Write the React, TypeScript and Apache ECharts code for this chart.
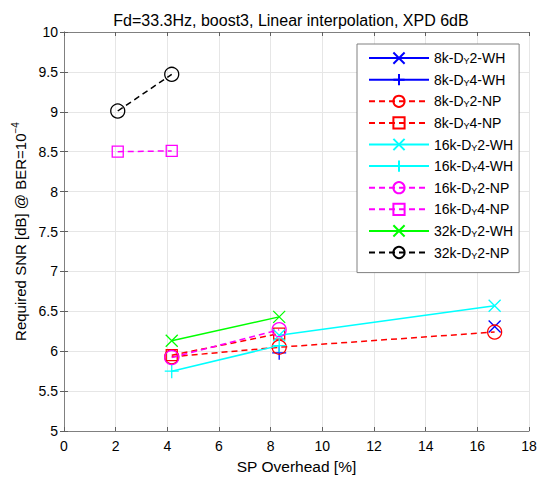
import React, { useEffect, useRef } from "react";
import * as echarts from "echarts";

const xTicks = [0, 2, 4, 6, 8, 10, 12, 14, 16, 18];
const yTicks = [5, 5.5, 6, 6.5, 7, 7.5, 8, 8.5, 9, 9.5, 10];

const names = [
  "8k-DY2-WH", "8k-DY4-WH", "8k-DY2-NP", "8k-DY4-NP",
  "16k-DY2-WH", "16k-DY4-WH", "16k-DY2-NP", "16k-DY4-NP",
  "32k-DY2-WH", "32k-DY2-NP",
];

const s8kDy2Wh = [[16.67, 6.31]];
const s8kDy4Wh = [[8.33, 5.98]];
const s8kDy2Np = [[4.17, 5.93], [8.33, 6.05], [16.67, 6.24]];
const s8kDy4Np = [[4.17, 5.95], [8.33, 6.22]];
const s16kDy2Wh = [[8.33, 6.2], [16.67, 6.57]];
const s16kDy4Wh = [[4.17, 5.75], [8.33, 6.07]];
const s16kDy2Np = [[4.17, 5.92], [8.33, 6.27]];
const s16kDy4Np = [[2.08, 8.5], [4.17, 8.51]];
const s32kDy2Wh = [[4.17, 6.13], [8.33, 6.43]];
const s32kDy2Np = [[2.08, 9.01], [4.17, 9.47]];

const X = "path://M0,0L10,10M10,0L0,10";
const PLUS = "path://M5,0L5,10M0,5L10,5";

export default function App() {
  const ref = useRef<HTMLDivElement>(null);
  useEffect(() => {
    const chart = echarts.init(ref.current!, null, { renderer: "svg" });
    const font = "Liberation Sans, Arial, sans-serif";
    const mk = (name: string, data: number[][], color: string, symbol: string, size: number, dashed: boolean, z: number) => ({
      name,
      type: "line",
      data,
      symbol,
      symbolSize: size,
      showSymbol: true,
      z,
      lineStyle: { color, width: 1.5, type: dashed ? [6, 4] : "solid" },
      itemStyle: { color: "none", borderColor: color, borderWidth: 1.3 },
      emphasis: { disabled: true },
    });
    const series = [
      mk(names[0], s8kDy2Wh, "#0000ff", X, 12, false, 2),
      mk(names[1], s8kDy4Wh, "#0000ff", PLUS, 14, false, 2),
      mk(names[2], s8kDy2Np, "#ff0000", "circle", 14, true, 3),
      mk(names[3], s8kDy4Np, "#ff0000", "rect", 11, true, 3),
      mk(names[4], s16kDy2Wh, "#00ffff", X, 12, false, 4),
      mk(names[5], s16kDy4Wh, "#00ffff", PLUS, 14, false, 4),
      mk(names[6], s16kDy2Np, "#ff00ff", "circle", 14, true, 5),
      mk(names[7], s16kDy4Np, "#ff00ff", "rect", 11, true, 5),
      mk(names[8], s32kDy2Wh, "#00ff00", X, 12, false, 6),
      mk(names[9], s32kDy2Np, "#000000", "circle", 14, true, 7),
    ];
    const axisLine = { show: true, lineStyle: { color: "#808080", width: 1 } };
    const tick = { inside: true, length: 4, lineStyle: { color: "#606060" } };
    chart.setOption({
      animation: false,
      backgroundColor: "#fff",
      textStyle: { fontFamily: font },
      title: {
        text: "Fd=33.3Hz, boost3, Linear interpolation, XPD 6dB",
        left: 286,
        textAlign: "center",
        top: 7,
        textStyle: { fontSize: 16, fontWeight: "normal", color: "#000", fontFamily: font },
      },
      grid: { left: 64, right: 13, top: 32, bottom: 46 },
      legend: {
        orient: "vertical",
        left: 357,
        top: 44,
        padding: [6, 6, 12, 11],
        backgroundColor: "#fff",
        borderColor: "#808080",
        borderWidth: 1,
        itemWidth: 60,
        itemHeight: 14,
        itemGap: 5.4,
        data: names,
        formatter: (n: string) => n.replace("DY", "D{s|Y}"),
        textStyle: {
          fontSize: 14,
          color: "#000",
          fontFamily: font,
          lineHeight: 15,
          rich: { s: { fontSize: 9, lineHeight: 11, padding: [6, 0, 0, 0], fontFamily: font } },
        },
      },
      xAxis: [
        {
          type: "value",
          min: 0,
          max: 18,
          interval: 2,
          name: "SP Overhead [%]",
          nameLocation: "middle",
          nameGap: 27,
          nameTextStyle: { fontSize: 15.5, color: "#000", fontFamily: font },
          axisLine,
          axisTick: tick,
          axisLabel: { fontSize: 14, color: "#000", margin: 8 },
          splitLine: { show: true, lineStyle: { color: "#e6e6e6" } },
        },
        {
          type: "value",
          position: "top",
          min: 0,
          max: 18,
          interval: 2,
          axisLine,
          axisTick: tick,
          axisLabel: { show: false },
          splitLine: { show: false },
        },
      ],
      yAxis: [
        {
          type: "value",
          min: 5,
          max: 10,
          interval: 0.5,
          name: "Required SNR [dB] @ BER=10{sup|−4}",
          nameLocation: "middle",
          nameGap: 29,
          nameTextStyle: {
            fontSize: 15,
            color: "#000",
            fontFamily: font,
            rich: { sup: { fontSize: 10, verticalAlign: "top", padding: [0, 0, 9, 0], fontFamily: font } },
          },
          axisLine,
          axisTick: tick,
          axisLabel: { fontSize: 14, color: "#000", margin: 6, formatter: (v: number) => String(v) },
          splitLine: { show: true, lineStyle: { color: "#e6e6e6" } },
        },
        {
          type: "value",
          position: "right",
          min: 5,
          max: 10,
          interval: 0.5,
          axisLine,
          axisTick: tick,
          axisLabel: { show: false },
          splitLine: { show: false },
        },
      ],
      series,
    });
    return () => chart.dispose();
  }, []);
  return <div ref={ref} style={{ width: 542, height: 479, position: "absolute", left: 0, top: 0 }} />;
}
